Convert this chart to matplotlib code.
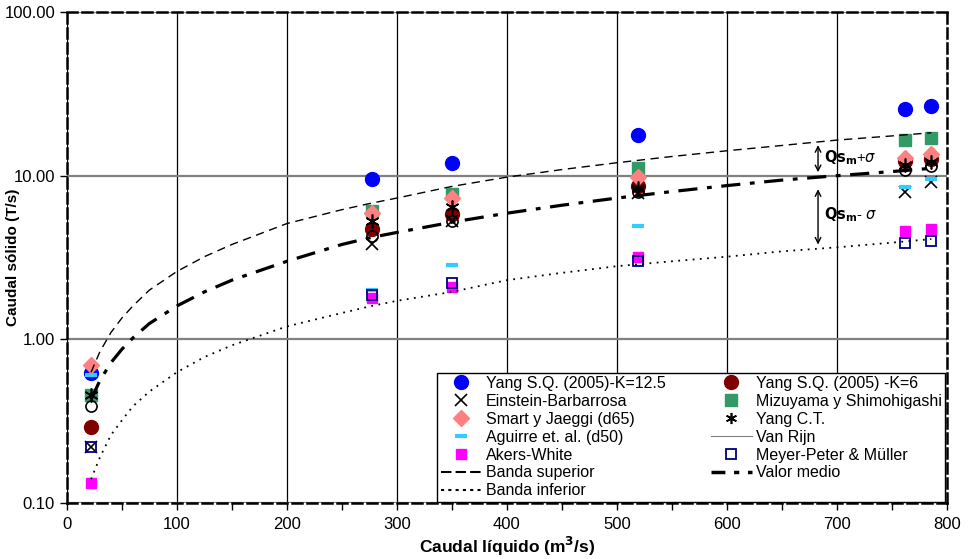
import matplotlib.pyplot as plt
from matplotlib.lines import Line2D
import numpy as np

plt.rcParams['font.family'] = ['Liberation Sans', 'DejaVu Sans']

# caudal liquido (m3/s) of the measured points
q = [22, 277, 350, 519, 762, 786]

# caudal solido (T/s) per formula
yang_125 = [0.62, 9.5, 11.9, 17.7, 25.5, 26.5]
yang_6 = [0.29, 4.7, 5.8, 8.7, 12.3, 12.6]
einstein = [0.22, 3.8, 5.3, 7.8, 7.9, 9.1]
mizuyama = [0.46, 6.1, 7.7, 11.2, 16.5, 16.9]
smart = [0.70, 5.9, 7.3, 9.8, 12.8, 13.5]
yang_ct = [0.46, 5.3, 6.4, 8.4, 11.6, 12.1]
aguirre = [0.61, 2.0, 2.84, 4.9, 8.5, 9.6]
van_rijn = [0.39, 4.3, 5.3, 8.0, 10.9, 11.4]
akers = [0.133, 1.8, 2.1, 3.2, 4.57, 4.7]
meyer = [0.22, 1.86, 2.2, 3.0, 3.9, 4.0]

# bands
q_band = [22, 30, 40, 50, 60, 75, 100, 125, 150, 200, 250, 277, 300, 350, 400,
          450, 500, 550, 600, 650, 700, 750, 786]
banda_sup = [0.63, 0.84, 1.1, 1.35, 1.6, 2.0, 2.6, 3.2, 3.8, 5.1, 6.2, 6.8, 7.3,
             8.6, 9.8, 10.9, 12.0, 13.1, 14.2, 15.3, 16.5, 17.5, 18.3]
valor_medio = [0.43, 0.56, 0.72, 0.87, 1.02, 1.25, 1.6, 1.95, 2.3, 3.0, 3.8, 4.2,
               4.5, 5.2, 5.9, 6.6, 7.3, 8.0, 8.7, 9.4, 10.0, 10.6, 11.1]
banda_inf = [0.14, 0.19, 0.26, 0.32, 0.39, 0.48, 0.63, 0.78, 0.92, 1.2, 1.45, 1.6,
             1.72, 1.95, 2.3, 2.55, 2.8, 3.0, 3.2, 3.45, 3.65, 3.9, 4.1]

fig = plt.figure(figsize=(9.69, 5.59), dpi=100)
ax = fig.add_axes([0.069, 0.1, 0.908, 0.8785])
ax.set_yscale('log')

ax.plot(q, yang_125, 'o', ms=10, color='#0000FF', mec='#0000FF', ls='none')
ax.plot(q, yang_6, 'o', ms=10, color='#800000', mec='#800000', ls='none')
ax.plot(q, einstein, 'x', ms=9, color='black', mew=1.2, ls='none')
ax.plot(q, mizuyama, 's', ms=8.5, color='#339966', mec='#339966', ls='none')
ax.plot(q, smart, 'D', ms=8, color='#FF8080', mec='#FF8080', ls='none')
ax.plot(q, yang_ct, marker=(6, 2, 0), ms=10, color='black', mew=1.2, ls='none')
ax.plot(q, aguirre, '_', ms=9, color='#33CCFF', mew=3, ls='none')
ax.plot(q, van_rijn, 'o', ms=8, mfc='none', mec='black', mew=1.2, ls='none')
ax.plot(q, akers, 's', ms=7, color='#FF00FF', mec='#FF00FF', ls='none')
ax.plot(q, meyer, 's', ms=7.5, mfc='none', mec='#000080', mew=1.3, ls='none')

ax.plot(q_band, banda_sup, color='black', lw=1, ls=(0, (6, 4)))
ax.plot(q_band, valor_medio, color='black', lw=2.3, ls=(0, (6, 3, 1.5, 3)))
ax.plot(q_band, banda_inf, color='black', lw=1.3, ls=(0, (1, 3)))

# arrows for the standard deviation
ax.annotate('', xy=(683, 16.0), xytext=(683, 10.1),
            arrowprops=dict(arrowstyle='<->', color='black', lw=1))
ax.annotate('', xy=(683, 8.6), xytext=(683, 3.65),
            arrowprops=dict(arrowstyle='<->', color='black', lw=1))
ax.text(688, 12.9, r'$\mathbf{Qs_{m}}$+$\sigma$', fontsize=10.5, va='center')
ax.text(688, 5.8, r'$\mathbf{Qs_{m}}$- $\sigma$', fontsize=10.5, va='center')

ax.set_xlim(0, 800)
ax.set_ylim(0.1, 100)
ax.set_xticks(np.arange(0, 801, 100))
ax.set_xticks(np.arange(50, 800, 100), minor=True)
ax.set_yticks([0.1, 1, 10, 100])
ax.set_yticklabels(['0.10', '1.00', '10.00', '100.00'])
ax.yaxis.set_minor_locator(plt.NullLocator())
ax.tick_params(axis='both', which='both', direction='out', length=5, width=1,
               labelsize=12)
ax.tick_params(axis='x', pad=5)
ax.grid(axis='x', color='black', lw=0.9)
ax.grid(axis='y', color='#808080', lw=1.6)
ax.set_axisbelow(True)
for sp in ax.spines.values():
    sp.set_linestyle((0, (4, 2)))
    sp.set_linewidth(1.8)

ax.set_xlabel('Caudal líquido (m$^\\mathbf{3}$/s)', fontsize=12.5, fontweight='bold', labelpad=2)
ax.set_ylabel('Caudal sólido (T/s)', fontsize=11, fontweight='bold')
ax.yaxis.set_label_coords(-0.053, 0.5)

handles = [
    Line2D([], [], marker='o', ms=10, color='#0000FF', ls='none'),
    Line2D([], [], marker='x', ms=9, color='black', mew=1.2, ls='none'),
    Line2D([], [], marker='D', ms=8, color='#FF8080', ls='none'),
    Line2D([], [], marker='_', ms=9, color='#33CCFF', mew=3, ls='none'),
    Line2D([], [], marker='s', ms=7, color='#FF00FF', ls='none'),
    Line2D([], [], color='black', lw=1.5, ls=(0, (5, 2))),
    Line2D([], [], color='black', lw=1.5, ls=(0, (1.5, 2))),
    Line2D([], [], marker='o', ms=10, color='#800000', ls='none'),
    Line2D([], [], marker='s', ms=8.5, color='#339966', ls='none'),
    Line2D([], [], marker=(6, 2, 0), ms=8, color='black', mew=1.2, ls='none'),
    Line2D([], [], color='#808080', lw=0.8),
    Line2D([], [], marker='s', ms=7.5, mfc='none', mec='#000080', mew=1.3, ls='none'),
    Line2D([], [], color='black', lw=2.5, ls=(0, (4, 2.5, 1.5, 2.5))),
]
labels = ['Yang S.Q. (2005)-K=12.5', 'Einstein-Barbarrosa', 'Smart y Jaeggi (d65)',
          'Aguirre et. al. (d50)', 'Akers-White', 'Banda superior', 'Banda inferior',
          'Yang S.Q. (2005) -K=6', 'Mizuyama y Shimohigashi', 'Yang C.T.', 'Van Rijn',
          'Meyer-Peter & Müller', 'Valor medio']
leg = ax.legend(handles, labels, ncol=2, loc='lower right', fontsize=11.5,
                frameon=True, fancybox=False, edgecolor='black', framealpha=1,
                borderaxespad=0.1, handlelength=2.6, handletextpad=0.25,
                columnspacing=2.8, labelspacing=0.18, borderpad=0.2)
leg.get_frame().set_linewidth(1)

fig.savefig('out.png', dpi=100)
